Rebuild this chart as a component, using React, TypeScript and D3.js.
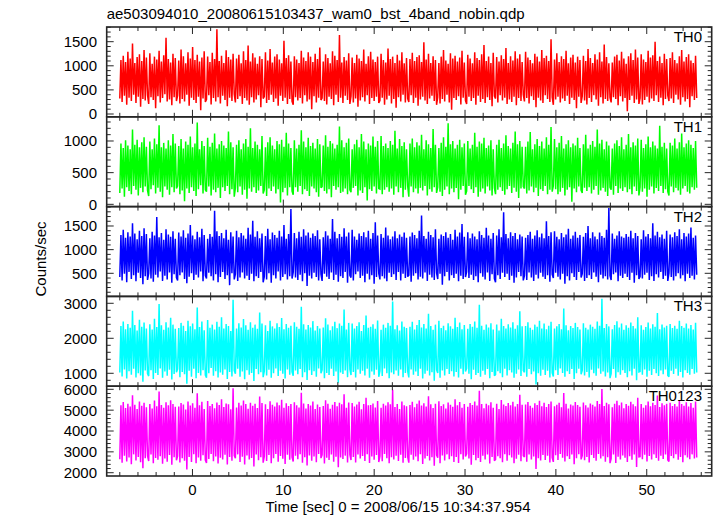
import React from "react";
import * as d3 from "d3";

const TITLE = "ae503094010_20080615103437_wam0_bst_4band_nobin.qdp";
const X_LABEL = "Time [sec] 0 = 2008/06/15 10:34:37.954";
const Y_LABEL = "Counts/sec";
const T_START = -8.0;
const T_END = 55.5;
const X_DOMAIN = [-9.44, 57.15];
const X_TICKS = [0, 10, 20, 30, 40, 50];

const TH0 = [
  320, 1120, 250, 1210, 380, 1080, 190, 1290, 340, 1150, 270, 1460, 400, 1060, 230, 1180, 360, 1240, 150, 1100, 310, 1330, 280, 1170, 390,
  210, 1260, 350, 1040, 290, 1190, 120, 1130, 370, 1310, 240, 1090, 330, 1220, 410, 1580, 260, 1140, 300, 1070, 180, 1250, 350, 1160, 270,
  380, 1110, 220, 1340, 310, 1200, 260, 1050, 400, 1280, 170, 1150, 340, 1390, 290, 1120, 230, 1230, 360, 1090, 80, 1170, 320, 1300, 250,
  300, 1190, 390, 1080, 200, 1270, 330, 1140, 260, 1760, 350, 1100, 220, 1210, 380, 1060, 290, 1320, 160, 1180, 340, 1130, 270, 1250, 410,
  240, 1150, 310, 1230, 370, 1050, 210, 1300, 330, 1120, 280, 1420, 190, 1090, 350, 1260, 240, 1170, 300, 1040, 390, 1200, 140, 1140, 320,
  360, 1280, 230, 1110, 290, 1350, 400, 1070, 250, 1190, 320, 1240, 170, 1130, 380, 1050, 270, 1520, 340, 1160, 210, 1220, 310, 1090, 260,
  190, 1200, 350, 1130, 280, 1060, 330, 1310, 220, 1170, 390, 1100, 260, 1280, 300, 1190, 100, 1080, 370, 1250, 240, 1140, 340, 1380, 290,
  330, 1090, 270, 1240, 200, 1160, 360, 1050, 310, 1300, 180, 1210, 400, 1120, 250, 1640, 340, 1070, 230, 1180, 380, 1110, 290, 1260, 210,
  370, 1170, 240, 1060, 320, 1230, 150, 1150, 280, 1100, 350, 1340, 260, 1040, 390, 1200, 210, 1290, 330, 1130, 270, 1080, 360, 1190, 230,
  280, 1250, 340, 1120, 190, 1070, 300, 1360, 380, 1140, 220, 1190, 310, 1060, 130, 1230, 350, 1110, 260, 1280, 400, 1050, 240, 1160, 320,
  250, 1140, 390, 1270, 230, 1100, 340, 1180, 170, 1220, 300, 1080, 360, 1490, 280, 1130, 210, 1250, 320, 1060, 380, 1200, 270, 1120, 190,
  350, 1060, 220, 1190, 310, 1330, 260, 1110, 400, 1040, 240, 1260, 90, 1150, 330, 1210, 290, 1090, 370, 1170, 200, 1310, 340, 1070, 280,
  210, 1230, 360, 1150, 270, 1050, 330, 1280, 190, 1160, 380, 1120, 250, 1240, 310, 1430, 230, 1100, 350, 1190, 290, 1060, 160, 1270, 370,
  320, 1180, 240, 1090, 390, 1220, 280, 1140, 340, 1370, 210, 1060, 300, 1200, 250, 1110, 360, 1300, 180, 1150, 330, 1240, 270, 1080, 400,
  260, 1290, 330, 1170, 220, 1120, 370, 1050, 290, 1250, 140, 1190, 340, 1090, 280, 1330, 230, 1160, 390, 1210, 310, 1100, 250, 1550, 350,
  190, 1130, 300, 1260, 360, 1080, 240, 1200, 320, 1140, 270, 1310, 380, 1050, 210, 1170, 340, 1230, 290, 1070, 120, 1190, 360, 1120, 230,
  370, 1210, 280, 1100, 200, 1350, 330, 1160, 250, 1060, 390, 1240, 300, 1130, 170, 1280, 350, 1090, 220, 1440, 310, 1180, 270, 1050, 340,
  240, 1070, 350, 1190, 310, 1230, 180, 1110, 370, 1290, 260, 1150, 330, 1040, 60, 1200, 290, 1260, 380, 1120, 230, 1340, 300, 1170, 210,
  330, 1240, 200, 1130, 290, 1080, 360, 1310, 240, 1170, 320, 1220, 270, 1500, 390, 1100, 250, 1190, 340, 1060, 180, 1250, 310, 1140, 380,
  270, 1160, 320, 1280, 230, 1120, 400, 1050, 300, 1200, 190, 1330, 350, 1090, 260, 1180, 310, 1240, 140, 1110, 370, 1060, 290, 1210, 330,
];

const TH1 = [
  180, 960, 250, 890, 120, 1010, 270, 930, 210, 870, 160, 1180, 290, 940, 230, 1020, 140, 900, 260, 980, 190, 1060, 280, 910, 220,
  130, 990, 240, 870, 300, 1040, 170, 950, 260, 1250, 200, 900, 110, 970, 280, 880, 230, 1010, 150, 930, 270, 1110, 190, 960, 250,
  290, 920, 160, 1030, 220, 880, 50, 990, 250, 940, 180, 1070, 270, 900, 210, 960, 130, 1290, 240, 870, 300, 1000, 170, 920, 230,
  200, 1050, 280, 910, 140, 970, 230, 1120, 190, 880, 260, 950, 100, 1000, 270, 930, 210, 890, 290, 1150, 160, 980, 240, 900, 120,
  260, 940, 190, 1010, 280, 870, 150, 960, 230, 1030, 90, 910, 250, 1200, 200, 890, 270, 990, 180, 940, 220, 870, 290, 1080, 170,
  230, 900, 130, 980, 250, 1060, 210, 930, 280, 870, 170, 1000, 240, 950, 30, 1020, 190, 910, 260, 1130, 140, 960, 270, 890, 210,
  150, 1010, 270, 880, 200, 940, 290, 1170, 160, 990, 240, 900, 210, 1050, 130, 920, 280, 970, 250, 880, 190, 1030, 120, 950, 260,
  280, 930, 210, 1090, 170, 910, 240, 1000, 110, 960, 290, 880, 230, 940, 270, 1230, 180, 1010, 200, 900, 250, 970, 160, 1040, 230,
  190, 870, 260, 950, 290, 1020, 140, 900, 220, 1110, 180, 990, 270, 870, 60, 960, 240, 930, 210, 1070, 280, 910, 170, 1000, 250,
  240, 1080, 160, 920, 230, 960, 270, 890, 200, 1000, 250, 940, 150, 1160, 280, 880, 190, 1030, 260, 920, 110, 980, 230, 870, 290,
  120, 960, 280, 1040, 190, 900, 250, 980, 170, 930, 260, 1100, 220, 870, 290, 1010, 140, 950, 240, 890, 200, 1190, 270, 940, 180,
  270, 890, 200, 970, 130, 1060, 230, 910, 280, 1280, 160, 950, 250, 1000, 190, 880, 260, 940, 80, 1020, 230, 900, 290, 960, 150,
  210, 1000, 290, 880, 240, 940, 180, 1130, 270, 910, 120, 990, 200, 960, 250, 1050, 170, 890, 280, 930, 220, 1010, 140, 870, 260,
  160, 940, 230, 1020, 270, 890, 210, 960, 150, 1090, 240, 920, 290, 880, 180, 970, 260, 1150, 200, 950, 100, 1000, 250, 910, 280,
  250, 910, 170, 990, 220, 1140, 280, 870, 190, 950, 260, 1030, 130, 920, 240, 990, 210, 880, 290, 1060, 160, 940, 230, 1220, 200,
  290, 1030, 240, 900, 160, 970, 200, 1080, 260, 880, 140, 950, 230, 1010, 270, 900, 40, 960, 250, 930, 190, 1050, 280, 890, 220,
  180, 950, 260, 1100, 210, 880, 270, 940, 170, 1000, 230, 910, 290, 1180, 150, 960, 220, 1020, 260, 870, 200, 990, 130, 930, 270,
  230, 880, 150, 960, 290, 1010, 180, 920, 250, 1060, 210, 870, 270, 940, 190, 1110, 240, 900, 160, 980, 280, 930, 210, 1040, 140,
  270, 1020, 200, 890, 250, 950, 120, 1070, 230, 900, 280, 990, 170, 930, 260, 880, 210, 1240, 290, 910, 180, 970, 240, 880, 200,
  140, 970, 280, 930, 190, 1040, 260, 880, 220, 980, 150, 1120, 250, 900, 290, 960, 200, 1010, 170, 940, 270, 890, 230, 1000, 260,
];

const TH2 = [
  420, 1310, 350, 1420, 490, 1250, 310, 1370, 530, 1280, 380, 1560, 460, 1340, 330, 1220, 510, 1400, 400, 1290, 270, 1450, 440, 1330, 360,
  500, 1240, 390, 1380, 320, 1300, 470, 1690, 410, 1260, 540, 1350, 340, 1210, 450, 1430, 370, 1320, 520, 1270, 300, 1390, 480, 1230, 410,
  350, 1360, 460, 1280, 520, 1410, 380, 1250, 290, 1340, 430, 1520, 500, 1300, 360, 1220, 470, 1380, 410, 1260, 540, 1440, 330, 1310, 450,
  390, 1230, 510, 1330, 440, 1270, 350, 1820, 480, 1390, 310, 1290, 420, 1350, 530, 1240, 380, 1420, 460, 1210, 250, 1370, 500, 1280, 370,
  480, 1400, 340, 1260, 410, 1350, 520, 1300, 390, 1230, 450, 1460, 360, 1320, 490, 1610, 330, 1270, 440, 1390, 400, 1240, 530, 1340, 310,
  430, 1290, 370, 1440, 500, 1220, 300, 1360, 460, 1310, 390, 1250, 540, 1400, 350, 1280, 420, 1520, 480, 1230, 370, 1330, 440, 1860, 390,
  520, 1350, 410, 1240, 360, 1380, 470, 1270, 330, 1430, 500, 1300, 230, 1360, 450, 1250, 390, 1340, 510, 1290, 420, 1410, 350, 1220, 480,
  340, 1260, 490, 1390, 430, 1300, 380, 1230, 520, 1650, 360, 1380, 470, 1240, 320, 1330, 440, 1270, 400, 1450, 530, 1280, 300, 1360, 460,
  410, 1420, 350, 1280, 480, 1210, 540, 1340, 400, 1290, 450, 1370, 310, 1260, 490, 1400, 370, 1230, 460, 1350, 280, 1580, 420, 1300, 500,
  370, 1330, 440, 1250, 390, 1470, 330, 1300, 510, 1220, 420, 1280, 480, 1390, 360, 1240, 530, 1320, 350, 1270, 490, 1360, 400, 1250, 430,
  460, 1280, 320, 1360, 450, 1310, 500, 1240, 370, 1400, 430, 1720, 390, 1290, 520, 1230, 340, 1380, 470, 1310, 410, 1260, 360, 1430, 510,
  380, 1230, 490, 1320, 260, 1290, 440, 1370, 530, 1250, 350, 1330, 460, 1210, 400, 1420, 490, 1280, 330, 1360, 450, 1540, 380, 1270, 420,
  530, 1370, 400, 1240, 470, 1340, 360, 1280, 440, 1220, 310, 1390, 500, 1310, 430, 1250, 370, 1460, 520, 1300, 340, 1230, 480, 1350, 390,
  310, 1300, 460, 1430, 380, 1260, 510, 1790, 420, 1330, 490, 1240, 360, 1370, 450, 1290, 300, 1350, 410, 1220, 530, 1320, 440, 1280, 350,
  450, 1250, 360, 1310, 520, 1380, 410, 1230, 340, 1300, 470, 1410, 390, 1260, 510, 1340, 430, 1240, 380, 1600, 460, 1290, 320, 1370, 480,
  400, 1390, 510, 1270, 430, 1220, 370, 1350, 490, 1260, 280, 1320, 440, 1440, 350, 1230, 500, 1300, 420, 1380, 360, 1250, 530, 1310, 410,
  490, 1270, 340, 1350, 400, 1500, 460, 1240, 380, 1370, 520, 1280, 430, 1220, 310, 1360, 470, 1290, 390, 1250, 440, 1420, 370, 1880, 450,
  360, 1340, 480, 1230, 520, 1300, 330, 1390, 450, 1280, 400, 1250, 490, 1330, 420, 1270, 360, 1400, 510, 1240, 300, 1350, 460, 1290, 380,
  430, 1220, 390, 1410, 470, 1280, 510, 1330, 360, 1240, 440, 1560, 340, 1300, 480, 1380, 410, 1260, 530, 1320, 380, 1230, 450, 1400, 340,
  510, 1320, 420, 1260, 350, 1370, 440, 1290, 500, 1430, 390, 1220, 460, 1350, 330, 1280, 490, 1340, 400, 1470, 450, 1250, 370, 1300, 470,
];

const TH3 = [
  1020, 2350, 910, 2480, 1110, 2260, 850, 2410, 1060, 2300, 960, 2790, 1130, 2380, 880, 2220, 1000, 2530, 940, 2330, 760, 2450, 1080, 2280, 990,
  920, 2400, 1090, 2250, 840, 2560, 1010, 2320, 950, 2980, 1140, 2370, 870, 2240, 1050, 2460, 930, 2310, 1100, 2590, 820, 2390, 980, 2270, 1030,
  1120, 2290, 890, 2440, 1040, 2360, 970, 2210, 700, 2500, 1070, 2340, 900, 2420, 1130, 2260, 860, 2880, 1010, 2320, 940, 2480, 1090, 2230, 950,
  870, 2520, 1000, 2300, 1150, 2390, 930, 2250, 1060, 2470, 880, 2330, 1020, 2600, 960, 2280, 1110, 2410, 840, 2350, 1040, 2210, 910, 3100, 1080,
  990, 2280, 1130, 2430, 900, 2310, 1050, 2550, 830, 2370, 1090, 2240, 960, 2460, 1010, 2300, 780, 2390, 1120, 2270, 970, 2740, 1030, 2420, 890,
  1060, 2370, 940, 2210, 1100, 2500, 870, 2340, 1000, 2280, 1140, 2430, 920, 2320, 1070, 2580, 990, 2260, 850, 2410, 1110, 2300, 960, 2360, 1040,
  930, 2460, 1080, 2330, 970, 2270, 1120, 2900, 890, 2400, 1030, 2250, 810, 2380, 1090, 2310, 950, 2490, 1060, 2220, 900, 2350, 1140, 2280, 1000,
  1100, 2310, 860, 2570, 1010, 2390, 950, 2230, 1130, 2340, 920, 2470, 1050, 2290, 730, 2420, 1020, 2360, 980, 2820, 1080, 2250, 890, 2440, 1120,
  950, 2420, 1040, 2280, 880, 2350, 1110, 2460, 990, 2210, 1070, 2380, 940, 2650, 1130, 2300, 870, 2330, 1050, 2400, 960, 2270, 1100, 2510, 900,
  1070, 2240, 920, 2390, 1140, 2300, 1000, 2440, 860, 2360, 1020, 3050, 970, 2260, 1080, 2370, 930, 2220, 1110, 2480, 890, 2330, 1010, 2290, 1060,
  880, 2330, 1110, 2470, 960, 2250, 1050, 2380, 920, 2520, 1130, 2310, 850, 2410, 990, 2280, 1070, 2700, 940, 2350, 1030, 2240, 790, 2390, 1100,
  1010, 2500, 870, 2290, 1080, 2360, 940, 2230, 1120, 2430, 980, 2340, 1060, 2270, 910, 2590, 1040, 2320, 880, 2450, 1130, 2260, 970, 2380, 1050,
  1140, 2270, 990, 2410, 830, 2330, 1100, 2480, 950, 2300, 1010, 2960, 900, 2360, 1070, 2240, 960, 2390, 1120, 2310, 860, 2430, 1040, 2250, 930,
  960, 2390, 1060, 2220, 1000, 2560, 890, 2350, 1130, 2280, 940, 2400, 1090, 2310, 1020, 2460, 870, 2270, 990, 2370, 1110, 2770, 920, 2340, 1080,
  1030, 2350, 900, 2460, 1120, 2300, 970, 2240, 1050, 2390, 680, 2330, 1000, 2500, 930, 2280, 1100, 2420, 950, 2260, 1070, 2360, 880, 2470, 1010,
  910, 2280, 1090, 2340, 950, 2410, 1140, 2260, 1010, 2850, 900, 2370, 1060, 2230, 980, 2350, 1120, 2290, 840, 2440, 1000, 2320, 1130, 2250, 970,
  1080, 2430, 940, 2300, 1040, 2250, 880, 2390, 1100, 2330, 1000, 2270, 930, 2480, 1140, 2360, 990, 3130, 1050, 2290, 910, 2410, 1020, 2340, 860,
  990, 2260, 1120, 2380, 870, 2490, 1030, 2310, 960, 2420, 1090, 2240, 1010, 2370, 890, 2300, 1060, 2450, 940, 2350, 1130, 2280, 800, 2600, 1040,
  1050, 2370, 960, 2240, 1110, 2320, 900, 2450, 1070, 2280, 950, 2400, 1120, 2330, 1000, 2720, 920, 2260, 1080, 2390, 970, 2310, 1110, 2360, 940,
  900, 2410, 1070, 2290, 980, 2360, 1130, 2270, 930, 2500, 1040, 2350, 880, 2300, 1090, 2420, 1010, 2280, 960, 2380, 1120, 2250, 990, 2440, 1020,
];

const TH0123 = [
  2650, 5230, 2480, 5390, 2820, 5100, 2540, 5310, 2730, 5180, 2410, 5720, 2880, 5260, 2590, 5050, 2760, 5420, 2500, 5210, 2220, 5350, 2690, 5140, 2810,
  2560, 5290, 2870, 5080, 2450, 5460, 2710, 5190, 2620, 5900, 2790, 5250, 2430, 5120, 2680, 5380, 2530, 5230, 2850, 5480, 2380, 5300, 2740, 5160, 2600,
  2800, 5170, 2490, 5340, 2700, 5270, 2570, 5030, 2150, 5410, 2760, 5220, 2520, 5330, 2890, 5110, 2460, 5810, 2730, 5240, 2580, 5400, 2840, 5060, 2610,
  2470, 5440, 2660, 5200, 2900, 5300, 2550, 5090, 2780, 5370, 2440, 5250, 2720, 5520, 2630, 5150, 2860, 5320, 2400, 5280, 2750, 5040, 2580, 6050, 2820,
  2690, 5130, 2880, 5350, 2510, 5220, 2770, 5460, 2390, 5290, 2830, 5070, 2640, 5360, 2710, 5210, 2300, 5310, 2870, 5100, 2600, 5650, 2740, 5340, 2480,
  2780, 5280, 2560, 5050, 2850, 5430, 2460, 5260, 2690, 5180, 2900, 5370, 2530, 5240, 2800, 5500, 2670, 5120, 2420, 5330, 2860, 5200, 2620, 5290, 2750,
  2540, 5380, 2810, 5240, 2650, 5130, 2890, 5840, 2480, 5320, 2740, 5080, 2350, 5300, 2830, 5220, 2570, 5410, 2780, 5060, 2500, 5270, 2900, 5150, 2700,
  2860, 5200, 2440, 5480, 2720, 5310, 2610, 5070, 2880, 5260, 2530, 5390, 2770, 5190, 2260, 5350, 2730, 5280, 2660, 5760, 2820, 5110, 2490, 5370, 2870,
  2610, 5340, 2760, 5170, 2490, 5270, 2870, 5400, 2680, 5040, 2800, 5300, 2560, 5590, 2890, 5230, 2470, 5250, 2780, 5320, 2620, 5130, 2850, 5440, 2510,
  2790, 5110, 2550, 5310, 2900, 5220, 2700, 5380, 2460, 5280, 2740, 5980, 2630, 5150, 2810, 5300, 2560, 5060, 2860, 5410, 2480, 5240, 2710, 5190, 2770,
  2480, 5250, 2860, 5400, 2620, 5140, 2780, 5310, 2550, 5460, 2890, 5220, 2420, 5330, 2680, 5170, 2800, 5670, 2590, 5280, 2740, 5100, 2330, 5310, 2850,
  2720, 5430, 2450, 5200, 2830, 5280, 2590, 5080, 2880, 5370, 2650, 5260, 2790, 5160, 2520, 5520, 2760, 5240, 2470, 5390, 2890, 5120, 2630, 5300, 2780,
  2900, 5160, 2680, 5340, 2380, 5250, 2850, 5420, 2600, 5220, 2710, 5930, 2510, 5290, 2810, 5090, 2640, 5310, 2880, 5230, 2440, 5380, 2750, 5110, 2570,
  2630, 5310, 2790, 5050, 2700, 5490, 2500, 5270, 2890, 5200, 2580, 5340, 2840, 5230, 2730, 5400, 2460, 5170, 2670, 5300, 2860, 5740, 2550, 5260, 2820,
  2750, 5270, 2530, 5390, 2870, 5210, 2640, 5120, 2780, 5330, 2180, 5250, 2700, 5450, 2590, 5190, 2850, 5360, 2610, 5150, 2810, 5290, 2490, 5420, 2720,
  2520, 5190, 2840, 5260, 2610, 5350, 2900, 5140, 2720, 5820, 2540, 5310, 2790, 5080, 2660, 5270, 2880, 5220, 2410, 5390, 2700, 5250, 2890, 5160, 2640,
  2820, 5370, 2600, 5230, 2760, 5130, 2490, 5320, 2850, 5260, 2710, 5180, 2580, 5440, 2900, 5300, 2680, 6020, 2790, 5200, 2530, 5360, 2740, 5280, 2460,
  2680, 5140, 2880, 5310, 2470, 5450, 2770, 5230, 2640, 5370, 2830, 5090, 2720, 5290, 2510, 5210, 2790, 5400, 2620, 5280, 2880, 5190, 2280, 5600, 2760,
  2770, 5300, 2650, 5110, 2860, 5240, 2540, 5420, 2800, 5190, 2630, 5350, 2880, 5250, 2710, 5700, 2570, 5150, 2820, 5330, 2660, 5230, 2870, 5310, 2610,
  2540, 5360, 2800, 5200, 2690, 5300, 2890, 5170, 2620, 5470, 2760, 5290, 2500, 5210, 2840, 5380, 2730, 5180, 2650, 5340, 2880, 5120, 2680, 5410, 2730,
];

const TH0_TICKS = [0, 500, 1000, 1500];
const TH1_TICKS = [0, 500, 1000];
const TH2_TICKS = [500, 1000, 1500];
const TH3_TICKS = [1000, 2000, 3000];
const TH0123_TICKS = [2000, 3000, 4000, 5000, 6000];

const PANELS = [
  { label: "TH0", values: TH0, color: "#ff0000", domain: [-58, 1805], ticks: TH0_TICKS, minor: 100 },
  { label: "TH1", values: TH1, color: "#00ff00", domain: [-36, 1382], ticks: TH1_TICKS, minor: 100 },
  { label: "TH2", values: TH2, color: "#0000ff", domain: [12, 1910], ticks: TH2_TICKS, minor: 100 },
  { label: "TH3", values: TH3, color: "#00ffff", domain: [631, 3197], ticks: TH3_TICKS, minor: 200 },
  { label: "TH0123", values: TH0123, color: "#ff00ff", domain: [1842, 6149], ticks: TH0123_TICKS, minor: 200 },
];

const W = 717;
const H = 516;
const LEFT = 106.7;
const RIGHT = 711.7;
const TOP = 27;
const BOTTOM = 476;
const FONT = "'Liberation Sans', Arial, Helvetica, sans-serif";
const FRAME = "#262626";

export default function App() {
  const ph = (BOTTOM - TOP) / PANELS.length;
  const x = d3.scaleLinear().domain(X_DOMAIN).range([LEFT, RIGHT]);
  const xMinor = d3.range(-8, 57, 2).filter((t) => X_TICKS.indexOf(t) < 0);

  return (
    <svg
      width={W}
      height={H}
      style={{ position: "absolute", left: 0, top: 0, background: "#fff" }}
      fontFamily={FONT}
    >
      <defs>
        {PANELS.map((p, k) => (
          <clipPath id={"clip" + k} key={k}>
            <rect x={LEFT} y={TOP + k * ph} width={RIGHT - LEFT} height={ph} />
          </clipPath>
        ))}
      </defs>
      <text x={LEFT} y={19} fontSize={15} fill="#000">{TITLE}</text>
      {PANELS.map((p, k) => {
        const y0 = TOP + k * ph;
        const y1 = y0 + ph;
        const y = d3.scaleLinear().domain(p.domain).range([y1, y0]);
        const n = p.values.length;
        const tx = (i: number) => T_START + (i * (T_END - T_START)) / (n - 1);
        const line = d3
          .line<number>()
          .x((d, i) => x(tx(i)))
          .y((d) => y(d));
        const minors = d3
          .range(Math.ceil(p.domain[0] / p.minor) * p.minor, p.domain[1], p.minor)
          .filter((v) => p.ticks.indexOf(v) < 0);
        return (
          <g key={k}>
            <path
              d={line(p.values) || ""}
              fill="none"
              stroke={p.color}
              strokeWidth={1.5}
              strokeLinejoin="miter"
              strokeMiterlimit={2}
              clipPath={`url(#clip${k})`}
            />
            {p.ticks.map((v) => (
              <g key={"M" + v}>
                <line x1={LEFT} x2={LEFT + 7} y1={y(v)} y2={y(v)} stroke={FRAME} strokeWidth={1} />
                <line x1={RIGHT} x2={RIGHT - 7} y1={y(v)} y2={y(v)} stroke={FRAME} strokeWidth={1} />
                <text x={97} y={y(v)} dy="0.36em" textAnchor="end" fontSize={15} fill="#000">
                  {v}
                </text>
              </g>
            ))}
            {minors.map((v) => (
              <g key={"m" + v}>
                <line x1={LEFT} x2={LEFT + 4} y1={y(v)} y2={y(v)} stroke={FRAME} strokeWidth={1} />
                <line x1={RIGHT} x2={RIGHT - 4} y1={y(v)} y2={y(v)} stroke={FRAME} strokeWidth={1} />
              </g>
            ))}
            {X_TICKS.map((t) => (
              <g key={"X" + t}>
                <line x1={x(t)} x2={x(t)} y1={y0} y2={y0 + 7} stroke={FRAME} strokeWidth={1} />
                <line x1={x(t)} x2={x(t)} y1={y1} y2={y1 - 7} stroke={FRAME} strokeWidth={1} />
              </g>
            ))}
            {xMinor.map((t) => (
              <g key={"x" + t}>
                <line x1={x(t)} x2={x(t)} y1={y0} y2={y0 + 4} stroke={FRAME} strokeWidth={1} />
                <line x1={x(t)} x2={x(t)} y1={y1} y2={y1 - 4} stroke={FRAME} strokeWidth={1} />
              </g>
            ))}
            <rect x={LEFT} y={y0} width={RIGHT - LEFT} height={ph} fill="none" stroke={FRAME} strokeWidth={1.6} />
            <text x={702} y={y0 + 15} textAnchor="end" fontSize={15} fill="#000">
              {p.label}
            </text>
          </g>
        );
      })}
      {X_TICKS.map((t) => (
        <text key={t} x={x(t)} y={495} textAnchor="middle" fontSize={15} fill="#000">
          {t}
        </text>
      ))}
      <text x={398} y={512} textAnchor="middle" fontSize={15} fill="#000">
        {X_LABEL}
      </text>
      <text transform={`translate(46,259) rotate(-90)`} textAnchor="middle" fontSize={15} fill="#000">
        {Y_LABEL}
      </text>
    </svg>
  );
}
